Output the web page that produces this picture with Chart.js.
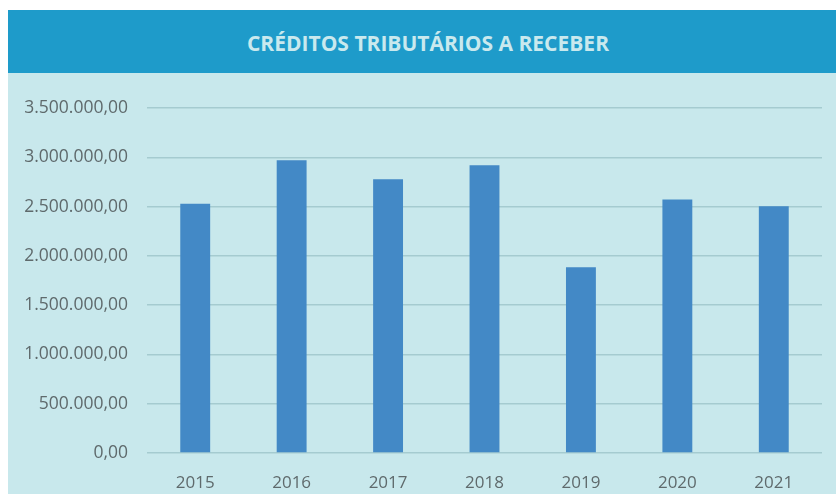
<!DOCTYPE html>
<html>
<head>
<meta charset="utf-8">
<script src="https://cdn.jsdelivr.net/npm/chart.js@4"></script>
<style>
  body { margin: 0; background: #ffffff; }
  #wrap { position: absolute; left: 8px; top: 10px; width: 828px; height: 484px; background: #c8e8ec; }
  #title {
    height: 63px; background: #1e9bca; color: #c9e9ee;
    font-family: "Open Sans", sans-serif; font-weight: bold; font-size: 21px;
    display: flex; align-items: center; justify-content: center;
    padding-top: 3px; padding-left: 12px; box-sizing: border-box;
  }
  #box { position: relative; width: 828px; height: 421px; }
</style>
</head>
<body>
<div id="wrap">
  <div id="title">CRÉDITOS TRIBUTÁRIOS A RECEBER</div>
  <div id="box"><canvas id="myChart"></canvas></div>
</div>
<script>
// Years and amounts
const years = ["2015", "2016", "2017", "2018", "2019", "2020", "2021"];
const amounts = [2529000, 2969000, 2776000, 2918000, 1885000, 2573000, 2502000];

// Brazilian number format, e.g. 3.500.000,00
function formatBR(v) {
  return v.toLocaleString("pt-BR", { minimumFractionDigits: 2, maximumFractionDigits: 2 });
}

const ctx = document.getElementById("myChart").getContext("2d");
new Chart(ctx, {
  type: "bar",
  data: {
    labels: years,
    datasets: [{
      data: amounts,
      backgroundColor: "#4389c6",
      barPercentage: 0.31,
      categoryPercentage: 1.0,
    }],
  },
  options: {
    maintainAspectRatio: false,
    responsive: true,
    animation: false,
    layout: { padding: { top: 35, right: 14, left: 0, bottom: 0 } },
    plugins: { legend: { display: false }, tooltip: { enabled: false } },
    scales: {
      x: {
        grid: { display: false },
        border: { display: false },
        ticks: {
          color: "#5f6a6c",
          padding: 12,
          font: { family: "Open Sans", size: 17 },
        },
        afterFit: (scale) => { scale.height = 41; },
      },
      y: {
        min: 0,
        max: 3500000,
        grid: { color: "#a5cbd0", lineWidth: 1.5, drawTicks: false },
        border: { display: false },
        ticks: {
          stepSize: 500000,
          color: "#5f6a6c",
          padding: 19,
          font: { family: "Open Sans", size: 17.5 },
          callback: (v) => formatBR(v),
        },
        afterFit: (scale) => { scale.width = 139; },
      },
    },
  },
});
</script>
</body>
</html>
